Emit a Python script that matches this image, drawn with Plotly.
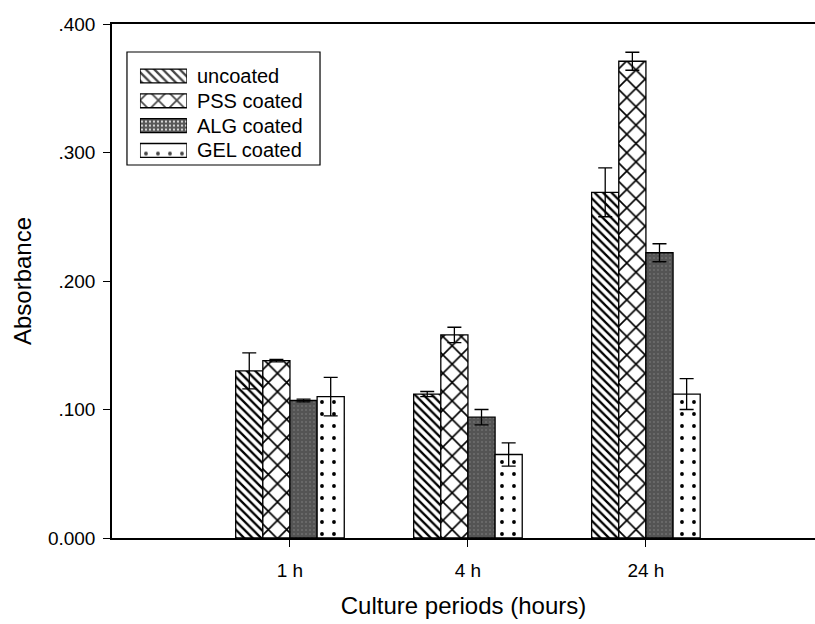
import plotly.graph_objects as go

periods = ["1 h", "4 h", "24 h"]
series_names = ["uncoated", "PSS coated", "ALG coated", "GEL coated"]
uncoated = [0.130, 0.112, 0.269]
pss = [0.138, 0.158, 0.371]
alg = [0.107, 0.094, 0.222]
gel = [0.110, 0.065, 0.112]
uncoated_err = [0.014, 0.002, 0.019]
pss_err = [0.001, 0.006, 0.007]
alg_err = [0.001, 0.006, 0.007]
gel_err = [0.015, 0.009, 0.012]
y_ticks = [0.0, 0.1, 0.2, 0.3, 0.4]
y_ticktext = ["0.000", ".100", ".200", ".300", ".400"]

values = [uncoated, pss, alg, gel]
errors = [uncoated_err, pss_err, alg_err, gel_err]

fill_colors = ["white", "white", "#585858", "white"]
pat_shapes = ["\\", "x", ".", "."]
pat_sizes = [6, 13, 4, 12]
pat_solid = [0.38, 0.24, 0.2, 0.08]
pat_fg = ["black", "black", "#6e6e6e", "black"]
pat_bg = ["white", "white", "#545454", "white"]

font_family = "Liberation Sans, Arial, sans-serif"

fig = go.Figure()
for i, (name, vals, errs) in enumerate(zip(series_names, values, errors)):
    fig.add_trace(go.Bar(
        x=periods, y=vals, name=name, showlegend=False,
        marker=dict(
            color=fill_colors[i],
            pattern=dict(shape=pat_shapes[i], size=pat_sizes[i], solidity=pat_solid[i],
                         fgcolor=pat_fg[i], bgcolor=pat_bg[i], fgopacity=1),
            line=dict(color="black", width=1.3),
        ),
        error_y=dict(type="data", array=errs, visible=True, color="black", thickness=1.3, width=7),
    ))

# legend swatches drawn as bars on a small auxiliary axis pair
fig.add_trace(go.Bar(
    y=series_names, x=[1] * len(series_names), base=0, orientation="h",
    xaxis="x2", yaxis="y2", width=0.56, showlegend=False, hoverinfo="skip",
    marker=dict(
        color=fill_colors,
        pattern=dict(shape=pat_shapes, size=pat_sizes, solidity=pat_solid,
                     fgcolor=pat_fg, bgcolor=pat_bg, fgopacity=1),
        line=dict(color="black", width=1.3),
    ),
))

fig.update_layout(
    width=815, height=624,
    margin=dict(l=112, r=0, t=24, b=86),
    paper_bgcolor="white", plot_bgcolor="white",
    barmode="group", bargap=0.39, bargroupgap=0,
    font=dict(family=font_family, color="black", size=19),
    showlegend=False,
    xaxis=dict(
        type="category", range=[-1.0, 2.95],
        showline=True, linecolor="black", linewidth=1.5, mirror=True,
        ticks="outside", ticklen=7, tickcolor="black",
        tickfont=dict(size=19), ticklabelstandoff=7,
        title=dict(text="Culture periods (hours)", font=dict(size=24), standoff=18),
        showgrid=False, zeroline=False,
    ),
    yaxis=dict(
        range=[0, 0.4], tickvals=y_ticks, ticktext=y_ticktext,
        showline=True, linecolor="black", linewidth=1.5,
        ticks="outside", ticklen=7, tickcolor="black",
        tickfont=dict(size=19), ticklabelstandoff=4,
        title=dict(text="Absorbance", font=dict(size=24), standoff=10),
        showgrid=False, zeroline=False,
    ),
    xaxis2=dict(
        domain=[0.0398, 0.1066], range=[0, 1], anchor="y2",
        visible=False, fixedrange=True,
    ),
    yaxis2=dict(
        domain=[0.7298, 0.9230], anchor="x2", type="category",
        range=[3.5, -0.5], side="right",
        showline=False, showgrid=False, zeroline=False, ticks="",
        tickfont=dict(size=20), ticklabelstandoff=9, fixedrange=True,
    ),
    shapes=[dict(
        type="rect", xref="paper", yref="paper",
        x0=0.0213, x1=0.2959, y0=0.7257, y1=0.9455,
        line=dict(color="black", width=1.2), fillcolor="rgba(0,0,0,0)", layer="above",
    )],
)

fig.write_html("out.html")
